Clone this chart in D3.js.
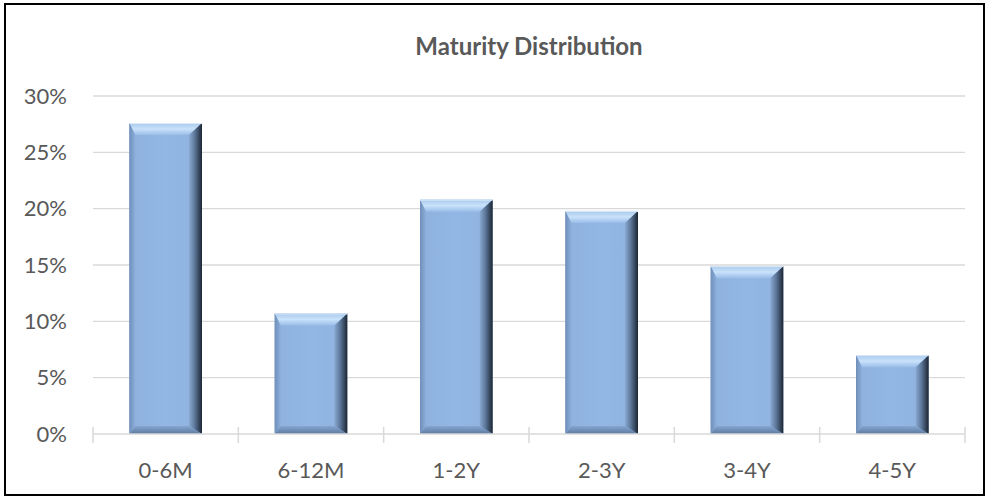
<!DOCTYPE html>
<html>
<head>
<meta charset="utf-8">
<script src="https://cdn.jsdelivr.net/npm/d3@7"></script>
<style>
  body { margin: 0; background: #fff; }
  svg { display: block; font-family: Lato, "Open Sans", sans-serif; }
</style>
</head>
<body>
<svg id="chart" width="989" height="500"></svg>
<script>
// data
var categories = ["0-6M", "6-12M", "1-2Y", "2-3Y", "3-4Y", "4-5Y"]
var shares = [0.276, 0.107, 0.208, 0.198, 0.149, 0.07]
var yTicks = [0, 0.05, 0.10, 0.15, 0.20, 0.25, 0.30]

var svg = d3.select("#chart")
var W = 989, H = 500
var plot = {left: 93, right: 965, top: 96, bottom: 434}

// outer frame
svg.append("rect")
   .attr("x", 5).attr("y", 4)
   .attr("width", W - 10).attr("height", H - 9)
   .attr("fill", "#fff")
   .attr("stroke", "#000").attr("stroke-width", 2)

var x = d3.scaleBand()
    .domain(categories)
    .range([plot.left, plot.right])
    .paddingInner(0.5).paddingOuter(0.25)

var y = d3.scaleLinear()
    .domain([0, 0.30])
    .range([plot.bottom, plot.top])

// gradients for the bevel look
var defs = svg.append("defs")
function grad(id, x2, y2, stops){
  var g = defs.append("linearGradient").attr("id", id)
     .attr("x1", 0).attr("y1", 0).attr("x2", x2).attr("y2", y2)
  stops.forEach(function(s){
    g.append("stop").attr("offset", s[0]).attr("stop-color", s[1])
  })
}
grad("face", 1, 0, [[0, "#8eb1de"], [0.5, "#93b7e4"], [1, "#8fb2df"]])
grad("topBevel", 0, 1, [[0, "#a9c8ec"], [0.5, "#c9e2fb"], [1, "#9abde8"]])
grad("rightBevel", 1, 0, [[0, "#8aa9d2"], [0.45, "#5b7698"], [1, "#1c2633"]])
grad("leftBevel", 1, 0, [[0, "#6f8fb8"], [1, "#8cafdc"]])
grad("bottomBevel", 0, 1, [[0, "#86a6d0"], [1, "#5d7aa0"]])

// gridlines
svg.append("g")
   .selectAll("line")
   .data(yTicks.slice(1))
   .enter()
   .append("line")
   .attr("x1", plot.left).attr("x2", plot.right)
   .attr("y1", function(d){ return y(d) }).attr("y2", function(d){ return y(d) })
   .attr("stroke", "#d9d9d9").attr("stroke-width", 1.3)

// y axis labels
var yAxis = d3.axisLeft(y).tickValues(yTicks).tickFormat(d3.format(".0%")).tickSize(0).tickPadding(26)
var gy = svg.append("g").attr("transform", "translate(" + plot.left + ",0)").call(yAxis)
gy.select(".domain").remove()
gy.selectAll("text").attr("font-size", 22).attr("fill", "#595959")
  .attr("font-family", "Lato, sans-serif")

// bars
var bars = svg.append("g")
   .selectAll("g")
   .data(shares)
   .enter()
   .append("g")

bars.each(function(d, i){
  var g = d3.select(this)
  var x0 = x(categories[i]), x1 = x0 + x.bandwidth()
  var y0 = y(d), y1 = y(0)
  var bt = 12, br = 13, bb = 8, bl = 6
  g.append("rect").attr("x", x0).attr("y", y0)
   .attr("width", x1 - x0).attr("height", y1 - y0).attr("fill", "url(#face)")
  g.append("polygon").attr("fill", "url(#topBevel)")
   .attr("points", [[x0, y0], [x1, y0], [x1 - br, y0 + bt], [x0 + bl, y0 + bt]].join(" "))
  g.append("polygon").attr("fill", "url(#rightBevel)")
   .attr("points", [[x1, y0], [x1, y1], [x1 - br, y1 - bb], [x1 - br, y0 + bt]].join(" "))
  g.append("polygon").attr("fill", "url(#leftBevel)")
   .attr("points", [[x0, y0], [x0 + bl, y0 + bt], [x0 + bl, y1 - bb], [x0, y1]].join(" "))
  g.append("polygon").attr("fill", "url(#bottomBevel)")
   .attr("points", [[x0, y1], [x0 + bl, y1 - bb], [x1 - br, y1 - bb], [x1, y1]].join(" "))
  g.append("line").attr("x1", x0).attr("x2", x1).attr("y1", y0 + 0.5).attr("y2", y0 + 0.5)
   .attr("stroke", "#dce9f7").attr("stroke-width", 1)
})

// x axis
var bounds = categories.map(function(c){ return x(c) - x.step() * 0.25 })
bounds.push(plot.right)
svg.append("line")
   .attr("x1", plot.left).attr("x2", plot.right)
   .attr("y1", plot.bottom).attr("y2", plot.bottom)
   .attr("stroke", "#d9d9d9").attr("stroke-width", 1.5)
svg.append("g")
   .selectAll("line")
   .data(bounds)
   .enter()
   .append("line")
   .attr("x1", function(d){ return d }).attr("x2", function(d){ return d })
   .attr("y1", plot.bottom - 7).attr("y2", plot.bottom + 9)
   .attr("stroke", "#d9d9d9").attr("stroke-width", 1.5)

svg.append("g")
   .selectAll("text")
   .data(categories)
   .enter()
   .append("text")
   .attr("x", function(d){ return x(d) + x.bandwidth() / 2 })
   .attr("y", 478)
   .attr("text-anchor", "middle")
   .attr("font-size", 22)
   .attr("fill", "#595959")
   .text(function(d){ return d })

// title
svg.append("text")
   .attr("x", (plot.left + plot.right) / 2)
   .attr("y", 55)
   .attr("text-anchor", "middle")
   .attr("font-size", 24)
   .attr("font-weight", "bold")
   .attr("fill", "#595959")
   .text("Maturity Distribution")
</script>
</body>
</html>
